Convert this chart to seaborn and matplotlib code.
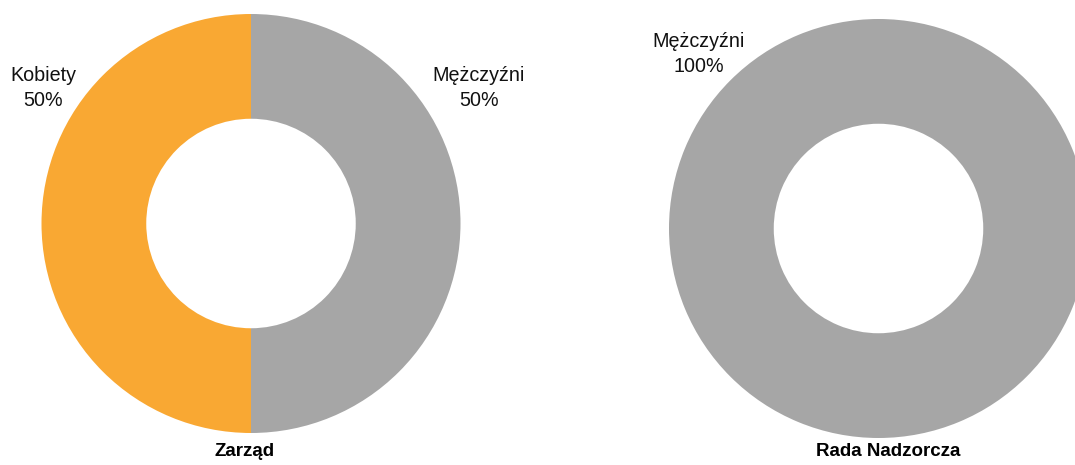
import matplotlib
matplotlib.use("Agg")
import matplotlib.pyplot as plt
from matplotlib import font_manager
import seaborn as sns

# ---- data ----
categories = ["Kobiety", "Mężczyźni"]
zarzad_values = [50, 50]
rada_values = [0, 100]
chart_titles = ["Zarząd", "Rada Nadzorcza"]
colors = ["#F9A833", "#A6A6A6"]

sns.set_theme(style="white")
available = {f.name for f in font_manager.fontManager.ttflist}
narrow = "Liberation Sans Narrow" if "Liberation Sans Narrow" in available else None
plt.rcParams["font.family"] = ["Liberation Sans", "DejaVu Sans"]

W, H = 1075, 465
fig = plt.figure(figsize=(W / 100, H / 100), dpi=100)
fig.patch.set_facecolor("white")


def donut(cx, cy, r, values, title, tx, ty):
    ax = fig.add_axes([(cx - r) / W, (H - cy - r) / H, 2 * r / W, 2 * r / H])
    ax.pie(values, colors=colors, startangle=90, counterclock=True,
           radius=1, wedgeprops=dict(width=0.5, edgecolor="none"))
    ax.set_xlim(-1, 1)
    ax.set_ylim(-1, 1)
    ax.set_axis_off()
    fig.text(tx / W, 1 - ty / H, title, ha="center", va="center",
             fontsize=13.5, fontweight="bold", color="black")
    return ax


donut(251, 223.5, 209.5, zarzad_values, chart_titles[0], 245, 451)
donut(878.5, 228.5, 209.5, rada_values, chart_titles[1], 888, 451)

if narrow:
    lab_kw = dict(fontsize=16.5, family=[narrow, "DejaVu Sans"])
else:
    lab_kw = dict(fontsize=14.2)


def label(x, y, cat, val):
    fig.text(x / W, 1 - y / H, f"{cat}\n{val}%", ha="center", va="center",
             linespacing=1.35, color="#111111", **lab_kw)


label(43, 88, categories[0], zarzad_values[0])
label(479, 88, categories[1], zarzad_values[1])
label(699, 54, categories[1], rada_values[1])

fig.savefig("out.png", dpi=100, facecolor="white")
